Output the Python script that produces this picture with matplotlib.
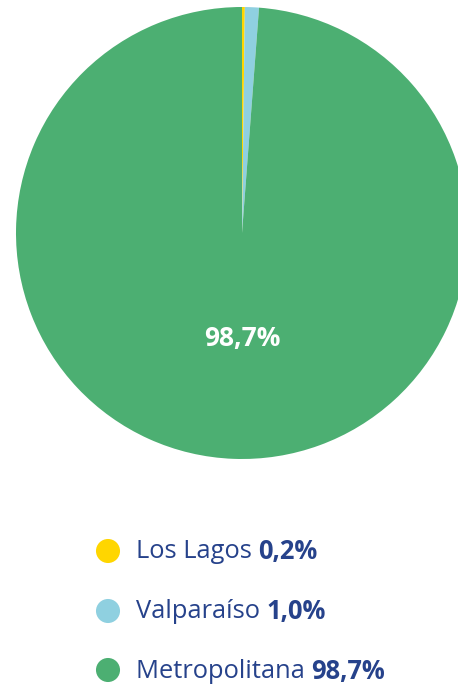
import matplotlib
matplotlib.use("Agg")
import matplotlib.pyplot as plt
import numpy as np

regions = ["Los Lagos", "Valparaíso", "Metropolitana"]
values = [0.2, 1.0, 98.7]
labels_pct = ["0,2%", "1,0%", "98,7%"]
colors = ["#FFD600", "#8FD0E0", "#4CAF72"]
text_color = "#26428B"

plt.rcParams['font.family'] = ['Open Sans', 'DejaVu Sans']

W, H = 458, 685
fig = plt.figure(figsize=(W/100, H/100), dpi=100)

# pie axes: center (242,233), radius 226 px
cx, cy, r = 242, 233, 226
ax = fig.add_axes([(cx - r)/W, (H - cy - r)/H, 2*r/W, 2*r/H])
wedges, _ = ax.pie(values, colors=colors, startangle=90, counterclock=False,
                   radius=1.0, wedgeprops=dict(linewidth=0))
ax.set_xlim(-1, 1)
ax.set_ylim(-1, 1)
ax.set_aspect('equal')
ax.axis('off')

# label of the largest wedge, below the centre
ax.text(0, -0.465, labels_pct[2], color="white",
        fontsize=19, fontweight='bold', ha='center', va='center')

# legend
lax = fig.add_axes([0, 0, 1, 1])
lax.set_xlim(0, W)
lax.set_ylim(H, 0)
lax.axis('off')
ys = [551, 611, 670]
for name, pct, col, y in zip(regions, labels_pct, colors, ys):
    lax.scatter([108], [y], s=300, color=col, edgecolors='none')
    t = lax.text(136, y + 1, name + " ", color=text_color, fontsize=18.4,
                 ha='left', va='center')
    lax.annotate(pct, xy=(1, 0.5), xycoords=t, ha='left', va='center',
                 color=text_color, fontsize=18.4, fontweight='bold')

fig.savefig("out.png", dpi=100)
